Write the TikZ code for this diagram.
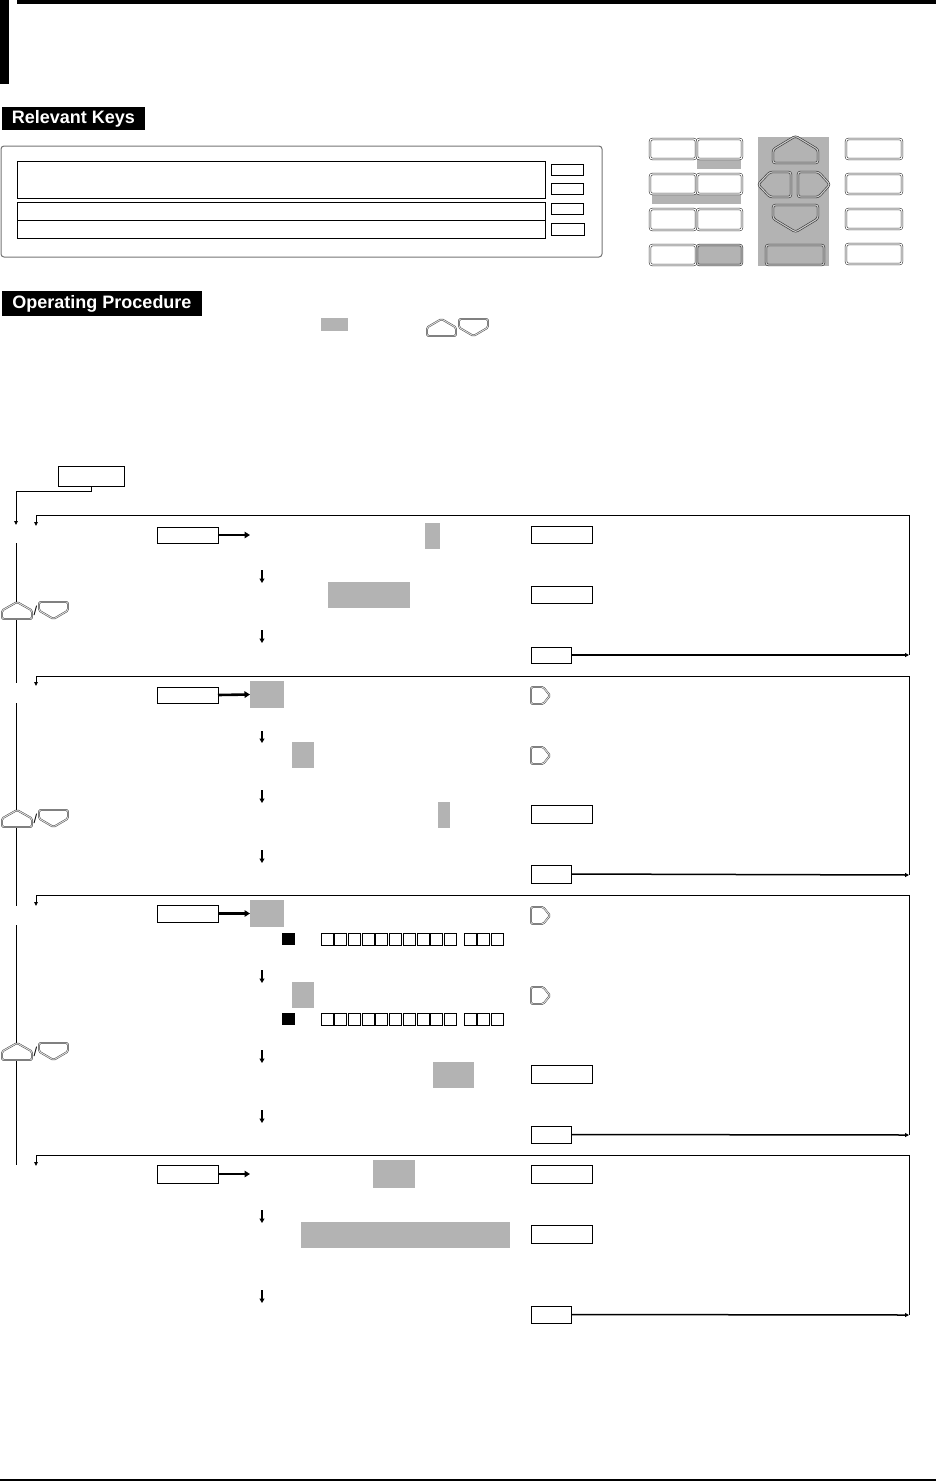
\documentclass[tikz,border=0pt]{standalone}
\usepackage{fontspec}
\newfontfamily\hdfont{Liberation Sans}
\usetikzlibrary{arrows.meta}
\definecolor{keygray}{RGB}{179,179,179}
\newcommand{\rbox}[6]{\node[#1, anchor=north west, minimum width={((#5)-(#3))*1pt}, minimum height={((#6)-(#4))*1pt}] (#2) at ({#3},{#4}) {};}
\newcommand{\upkey}[5]{\path[#5] (#1,#4) -- (#3,#4) -- (#3,{#2+0.5*(#4-#2)}) -- ({(#1+#3)/2},#2) -- (#1,{#2+0.5*(#4-#2)}) -- cycle;}
\newcommand{\dnkey}[5]{\path[#5] (#1,#2) -- (#3,#2) -- (#3,{#2+0.5*(#4-#2)}) -- ({(#1+#3)/2},#4) -- (#1,{#2+0.5*(#4-#2)}) -- cycle;}
\newcommand{\lfkey}[5]{\path[#5] (#3,#2) -- (#3,#4) -- ({#1+0.36*(#3-#1)},#4) -- (#1,{(#2+#4)/2}) -- ({#1+0.36*(#3-#1)},#2) -- cycle;}
\newcommand{\rtkey}[5]{\path[#5] (#1,#2) -- ({#3-0.36*(#3-#1)},#2) -- (#3,{(#2+#4)/2}) -- ({#3-0.36*(#3-#1)},#4) -- (#1,#4) -- cycle;}
\begin{document}
\begin{tikzpicture}[x=1pt,y=-1pt,
  box/.style={draw=black, line width=0.9pt, fill=white, inner sep=0pt, outer sep=0pt},
  gbox/.style={fill=keygray, draw=none, inner sep=0pt, outer sep=0pt},
  sqbox/.style={draw=black, line width=0.8pt, fill=white, inner sep=0pt, outer sep=0pt},
  blsq/.style={fill=black, draw=none, inner sep=0pt, outer sep=0pt},
  thinline/.style={line width=0.9pt},
  looparrow/.style={line width=0.9pt, -{Triangle[length=4pt,width=3.5pt]}},
  backarrow/.style={line width=1.5pt, -{Triangle[length=4pt,width=4pt]}},
  steparrow/.style={line width=2pt, -{Triangle[length=4.5pt,width=5pt]}},
  goarrow/.style={line width=2.6pt, -{Triangle[length=5.5pt,width=6.5pt]}},
  keyw/.style={draw=black!80, double=white, double distance=1.1pt, line width=0.6pt, fill=white, rounded corners=2.5pt},
  keyg/.style={draw=black!80, double=keygray!70!white, double distance=1.1pt, line width=0.6pt, fill=keygray, rounded corners=2.5pt},
  icon/.style={draw=black!70, double=keygray!40!white, double distance=0.9pt, line width=0.5pt, fill=white, rounded corners=1.5pt},
  tag/.style={fill=black, text=white, inner sep=0pt, outer sep=0pt, anchor=north west, font=\hdfont\bfseries\fontsize{18}{18}\selectfont}
]
\useasboundingbox (0,0) rectangle (936,1481);
% header
\fill (0,0) rectangle (9,84);
\fill (17,0) rectangle (936,4);
\draw[line width=1.5pt] (0,1480) -- (936,1480);

% Relevant Keys
\node[tag, minimum width=143pt, minimum height=23pt] (relkeys) at (2,107) {Relevant Keys};

% display panel
\draw[draw=black!55, rounded corners=3pt, line width=1pt] (1,146) rectangle (602,257);
\rbox{box}{d1}{17}{161}{545}{198}
\rbox{box}{d2}{17}{202}{545}{220}
\rbox{box}{d3}{17}{220}{545}{238}
\rbox{box}{p1}{551}{164}{583}{175}
\rbox{box}{p2}{551}{183}{583}{194}
\rbox{box}{p3}{551}{203}{583}{214}
\rbox{box}{p4}{551}{223}{584}{235}

% keypad
\fill[keygray] (697,159) rectangle (741,169);
\fill[keygray] (652,194) rectangle (741,204);
\fill[keygray] (758,137) rectangle (829,266);
\draw[keyw] (650,139) rectangle (696,159);
\draw[keyw] (697,139) rectangle (742,159);
\draw[keyw] (650,174) rectangle (696,194);
\draw[keyw] (697,174) rectangle (742,194);
\draw[keyw] (650,209) rectangle (696,230);
\draw[keyw] (697,209) rectangle (742,230);
\draw[keyw] (650,245) rectangle (696,265);
\draw[keyg] (697,245) rectangle (742,265);
\upkey{773}{136}{818}{163}{keyg}
\lfkey{758}{172}{791}{197}{keyg}
\rtkey{798}{172}{830}{197}{keyg}
\dnkey{773}{205}{818}{232}{keyg}
\draw[keyg] (766,245) rectangle (824,265);
\draw[keyw] (846,139) rectangle (902,159);
\draw[keyw] (846,174) rectangle (902,194);
\draw[keyw] (846,209) rectangle (902,229);
\draw[keyw] (846,244) rectangle (902,264);

% Operating Procedure
\node[tag, minimum width=200pt, minimum height=25pt] (opproc) at (2,291) {Operating Procedure};
\rbox{gbox}{legg}{321}{318}{348}{331}
\upkey{427}{319}{456}{336}{icon}
\dnkey{459}{319}{488}{336}{icon}

% start
\rbox{box}{start}{58}{466}{124}{486}
\coordinate (s1) at (91,491);
\coordinate (s2) at (16,525);
\draw[looparrow] (start.south -| s1) -- (s1) -| (s2);

% left spine
\coordinate (v1) at (16,543); \coordinate (v2) at (16,602);
\coordinate (v3) at (16,620); \coordinate (v4) at (16,683);
\coordinate (v5) at (16,703); \coordinate (v6) at (16,810);
\coordinate (v7) at (16,828); \coordinate (v8) at (16,906);
\coordinate (v9) at (16,925); \coordinate (v10) at (16,1043);
\coordinate (v11) at (16,1061); \coordinate (v12) at (16,1165);
\draw[thinline] (v1) -- (v2) (v3) -- (v4) (v5) -- (v6) (v7) -- (v8) (v9) -- (v10) (v11) -- (v12);
\upkey{2}{602}{32}{619}{icon}
\node[inner sep=0pt, font=\hdfont\fontsize{13}{13}\selectfont] (sl1) at (35.5,611) {/};
\dnkey{39}{602}{68}{619}{icon}
\upkey{2}{810}{32}{827}{icon}
\node[inner sep=0pt, font=\hdfont\fontsize{13}{13}\selectfont] (sl2) at (35.5,819) {/};
\dnkey{39}{810}{68}{827}{icon}
\upkey{2}{1043}{32}{1060}{icon}
\node[inner sep=0pt, font=\hdfont\fontsize{13}{13}\selectfont] (sl3) at (35.5,1052) {/};
\dnkey{39}{1043}{68}{1060}{icon}

% ===== Block 1 =====
\coordinate (a1) at (36,515); \coordinate (b1) at (909,515);
\coordinate (c1) at (909,655); \coordinate (d1a) at (36,526);
\draw[looparrow] (b1) -- (a1) -- (d1a);
\draw[thinline] (b1) -- (c1);
\rbox{box}{k1}{157}{527}{218}{543}
\coordinate (k1t) at (250,535);
\draw[goarrow] (k1.east) -- (k1t);
\rbox{gbox}{g11}{425}{523}{440}{549}
\rbox{box}{r11}{531}{526}{592}{543}
\coordinate (m11a) at (262,570); \coordinate (m11b) at (262,583);
\draw[steparrow] (m11a) -- (m11b);
\rbox{gbox}{g12}{328}{582}{410}{608}
\rbox{box}{r12}{531}{586}{592}{603}
\coordinate (m12a) at (262,630); \coordinate (m12b) at (262,643);
\draw[steparrow] (m12a) -- (m12b);
\rbox{box}{e1}{531}{647}{571}{663}
\draw[backarrow] (e1.east) -- (c1);

% ===== Block 2 =====
\coordinate (a2) at (36,676); \coordinate (b2) at (909,676);
\coordinate (c2) at (909,875); \coordinate (d2a) at (36,686);
\draw[looparrow] (b2) -- (a2) -- (d2a);
\draw[thinline] (b2) -- (c2);
\rbox{box}{k2}{157}{687}{218}{703}
\rbox{gbox}{g21}{250}{681}{284}{708}
\draw[goarrow] (k2.east) -- (g21.west);
\rtkey{531}{687}{550}{704}{icon}
\coordinate (m21a) at (262,731); \coordinate (m21b) at (262,743);
\draw[steparrow] (m21a) -- (m21b);
\rbox{gbox}{g22}{292}{742}{314}{768}
\rtkey{531}{747}{550}{764}{icon}
\coordinate (m22a) at (262,790); \coordinate (m22b) at (262,803);
\draw[steparrow] (m22a) -- (m22b);
\rbox{gbox}{g23}{438}{802}{450}{828}
\rbox{box}{r23}{531}{805}{592}{823}
\coordinate (m23a) at (262,850); \coordinate (m23b) at (262,863);
\draw[steparrow] (m23a) -- (m23b);
\rbox{box}{e2}{531}{865}{571}{883}
\draw[backarrow] (e2.east) -- (c2);

% ===== Block 3 =====
\coordinate (a3) at (36,895); \coordinate (b3) at (909,895);
\coordinate (c3) at (909,1135); \coordinate (d3a) at (36,906);
\draw[looparrow] (b3) -- (a3) -- (d3a);
\draw[thinline] (b3) -- (c3);
\rbox{box}{k3}{157}{905}{218}{922}
\rbox{gbox}{g31}{250}{900}{284}{927}
\draw[goarrow] (k3.east) -- (g31.west);
\rbox{blsq}{bq1}{282}{933}{295}{945}
\foreach \i in {0,...,9} {\rbox{sqbox}{sa\i}{321+13.7*\i}{933}{333+13.7*\i}{945}}
\foreach \i in {0,...,2} {\rbox{sqbox}{sb\i}{464+13.7*\i}{933}{476+13.7*\i}{945}}
\rtkey{531}{907}{550}{924}{icon}
\coordinate (m31a) at (262,970); \coordinate (m31b) at (262,983);
\draw[steparrow] (m31a) -- (m31b);
\rbox{gbox}{g32}{292}{982}{314}{1008}
\rtkey{531}{987}{550}{1004}{icon}
\rbox{blsq}{bq2}{282}{1013}{295}{1025}
\foreach \i in {0,...,9} {\rbox{sqbox}{sc\i}{321+13.7*\i}{1013}{333+13.7*\i}{1025}}
\foreach \i in {0,...,2} {\rbox{sqbox}{sd\i}{464+13.7*\i}{1013}{476+13.7*\i}{1025}}
\coordinate (m32a) at (262,1050); \coordinate (m32b) at (262,1063);
\draw[steparrow] (m32a) -- (m32b);
\rbox{gbox}{g33}{433}{1062}{474}{1088}
\rbox{box}{r33}{531}{1065}{592}{1083}
\coordinate (m33a) at (262,1110); \coordinate (m33b) at (262,1123);
\draw[steparrow] (m33a) -- (m33b);
\rbox{box}{e3}{531}{1126}{571}{1143}
\draw[backarrow] (e3.east) -- (c3);

% ===== Block 4 =====
\coordinate (a4) at (36,1155); \coordinate (b4) at (909,1155);
\coordinate (c4) at (909,1315); \coordinate (d4a) at (36,1166);
\draw[looparrow] (b4) -- (a4) -- (d4a);
\draw[thinline] (b4) -- (c4);
\rbox{box}{k4}{157}{1165}{218}{1183}
\coordinate (k4t) at (250,1174);
\draw[goarrow] (k4.east) -- (k4t);
\rbox{gbox}{g41}{373}{1160}{415}{1188}
\rbox{box}{r41}{531}{1165}{592}{1183}
\coordinate (m41a) at (262,1210); \coordinate (m41b) at (262,1223);
\draw[steparrow] (m41a) -- (m41b);
\rbox{gbox}{g42}{301}{1222}{510}{1248}
\rbox{box}{r42}{531}{1225}{592}{1243}
\coordinate (m42a) at (262,1290); \coordinate (m42b) at (262,1303);
\draw[steparrow] (m42a) -- (m42b);
\rbox{box}{e4}{531}{1306}{571}{1323}
\draw[backarrow] (e4.east) -- (c4);
\end{tikzpicture}
\end{document}
